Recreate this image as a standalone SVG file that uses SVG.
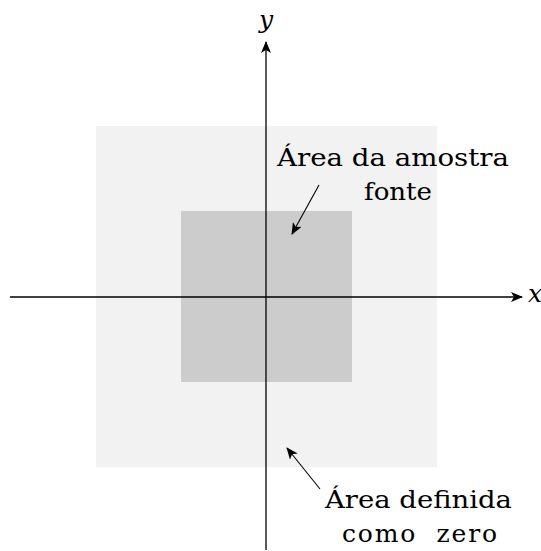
<svg xmlns="http://www.w3.org/2000/svg" width="541" height="551" viewBox="0 0 541 551">
<style>
text{font-family:'DejaVu Serif','Liberation Serif',serif;font-size:25px;fill:#000}
.ax{stroke:#000;stroke-width:1.3;fill:none}
.ptr{stroke:#000;stroke-width:1.1;fill:none}
.it{font-style:italic}
</style>
<defs>
<marker id="ah" viewBox="0 0 12 10" refX="11" refY="5" markerWidth="12" markerHeight="10" markerUnits="userSpaceOnUse" orient="auto">
<path d="M0,0 L12,5 L0,10 L3,5 Z" fill="#000"/>
</marker>
</defs>
<g id="zero-area"><rect x="96" y="126" width="341" height="341" fill="#f2f2f2"/></g>
<g id="sample-area"><rect x="181" y="211" width="171" height="171" fill="#cccccc"/></g>
<g id="connectors">
<line class="ax" x1="10" y1="297" x2="522" y2="297" marker-end="url(#ah)"/>
<line class="ax" x1="266" y1="550" x2="266" y2="42" marker-end="url(#ah)"/>
<line class="ptr" x1="319" y1="185" x2="292" y2="234" marker-end="url(#ah)"/>
<line class="ptr" x1="320" y1="489" x2="287" y2="448" marker-end="url(#ah)"/>
</g>
<g id="labels">
<text class="it" x="266" y="28" text-anchor="middle">y</text>
<text class="it" x="535" y="302" text-anchor="middle">x</text>
<text x="393" y="166" text-anchor="middle" textLength="232" lengthAdjust="spacingAndGlyphs">Área da amostra</text>
<text x="398" y="200" text-anchor="middle" textLength="68" lengthAdjust="spacingAndGlyphs">fonte</text>
<text x="418.5" y="508" text-anchor="middle" textLength="187" lengthAdjust="spacingAndGlyphs">Área definida</text>
<text x="419.5" y="542" text-anchor="middle" textLength="155" lengthAdjust="spacing" xml:space="preserve">como  zero</text>
</g>
</svg>
